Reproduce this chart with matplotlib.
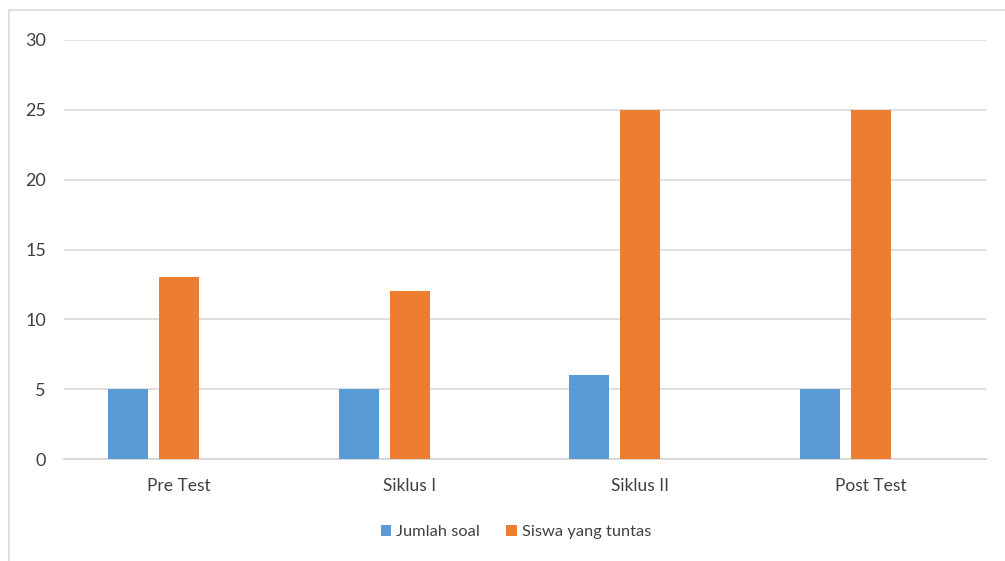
import matplotlib
matplotlib.use("Agg")
import matplotlib.pyplot as plt
from matplotlib.patches import Rectangle
import numpy as np

categories = ["Pre Test", "Siklus I", "Siklus II", "Post Test"]
jumlah_soal = [5, 5, 6, 5]
siswa_tuntas = [13, 12, 25, 25]
yticks = [0, 5, 10, 15, 20, 25, 30]

plt.rcParams['font.family'] = ['Lato', 'DejaVu Sans']

W, H = 1005, 561
fig = plt.figure(figsize=(W / 100, H / 100), dpi=100)

# chart frame (cropped at right/bottom)
fig.patches.append(Rectangle((9 / W, 1 - 570 / H), 1.1, (570 - 10) / H,
                             transform=fig.transFigure, fill=False,
                             edgecolor="#d9d9d9", linewidth=1.2))

x0, x1 = 64, 986
y_top, y_bot = 40, 459
ax = fig.add_axes([x0 / W, 1 - y_bot / H, (x1 - x0) / W, (y_bot - y_top) / H])

x = np.arange(len(categories))
bw = 0.1735
off = 0.221
ax.bar(x - off, jumlah_soal, bw, color="#5B9BD5", label="Jumlah soal", zorder=3)
ax.bar(x, siswa_tuntas, bw, color="#ED7D31", label="Siswa yang tuntas", zorder=3)

ax.set_xlim(-0.5, len(categories) - 0.5)
ax.set_ylim(0, 30)
ax.set_yticks(yticks)
ax.set_xticks(x)
ax.set_xticklabels(categories)
ax.grid(axis="y", color="#d9d9d9", linewidth=1.2, zorder=0)
for s in ["top", "right", "left"]:
    ax.spines[s].set_visible(False)
ax.spines["bottom"].set_color("#d9d9d9")
ax.spines["bottom"].set_linewidth(1.5)
ax.tick_params(axis="both", length=0, labelsize=12.5, colors="#404040")
ax.tick_params(axis="y", pad=13, labelsize=13)
ax.tick_params(axis="x", pad=14)
for lab in ax.get_xticklabels() + ax.get_yticklabels():
    lab.set_color("#404040")

leg = fig.legend(loc="center", bbox_to_anchor=(516 / W, 1 - 532 / H), ncol=2,
                 frameon=False, fontsize=11.8, handlelength=0.65, handleheight=0.65,
                 handletextpad=0.3, columnspacing=1.6)
for t in leg.get_texts():
    t.set_color("#404040")

fig.savefig("out.png", dpi=100)
